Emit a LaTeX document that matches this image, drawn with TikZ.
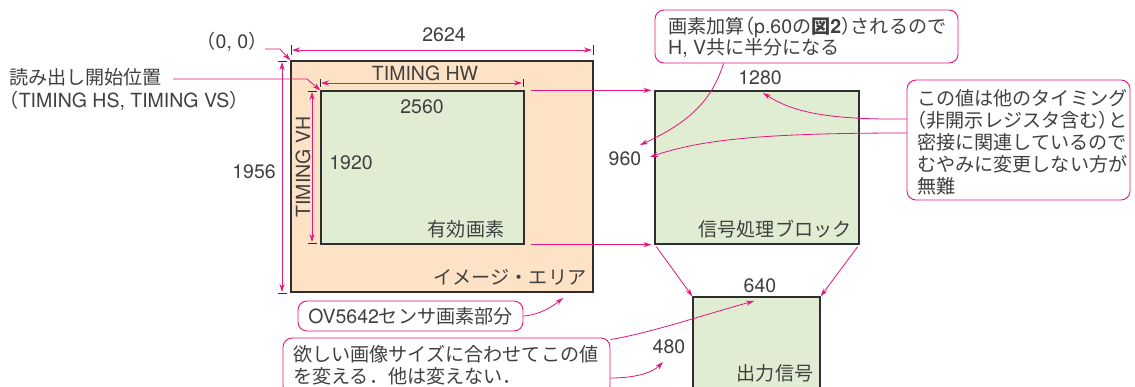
\documentclass[tikz,border=0pt]{standalone}
\usepackage{fontspec}
\setmainfont{TeX Gyre Heros}
\newfontfamily\jpf{Noto Sans CJK JP}[Scale=0.98]
\usetikzlibrary{arrows.meta}
\definecolor{pk}{HTML}{E5157E}
\definecolor{orf}{HTML}{FDE2C6}
\definecolor{grf}{HTML}{E1EDD2}
\definecolor{tx}{HTML}{404040}
\definecolor{bd}{HTML}{2E2E2E}
\newcommand{\jlp}{{\jpf\makebox[0.5em][r]{（}}}
\newcommand{\jrp}{{\jpf\makebox[0.5em][l]{）}}}
\begin{document}
\begin{tikzpicture}[x=1pt,y=-1pt,
  every node/.style={text=tx, font=\fontsize{19.5}{22}\selectfont},
  blockbox/.style={draw=bd, line width=1.3pt, inner sep=0pt},
  callout/.style={draw=pk, line width=0.9pt, rounded corners=9pt, inner sep=0pt},
  lab/.style={inner sep=0pt},
  pkarrow/.style={draw=pk, line width=0.8pt, -{Stealth[length=8pt,width=5pt]}},
  dimarrow/.style={draw=pk, line width=0.8pt, {Stealth[length=8pt,width=5pt]}-{Stealth[length=8pt,width=5pt]}},
  tickline/.style={draw=bd, line width=0.5pt},
  pkline/.style={draw=pk, line width=0.8pt}
]
\useasboundingbox (0,0) rectangle (1135,386);
\fill[white] (0,0) rectangle (1135,386);

% blocks
\node[blockbox, fill=orf, minimum width=302pt, minimum height=231pt] (area) at (442,176.5) {};
\node[blockbox, fill=grf, minimum width=203pt, minimum height=153pt] (valid) at (422.5,167.5) {};
\node[blockbox, fill=grf, minimum width=204pt, minimum height=153pt] (proc) at (757,167.5) {};
\node[blockbox, fill=grf, minimum width=127pt, minimum height=110pt] (out) at (756.5,352) {};

% labels
\node[lab] (zero) at (232,42) {\jlp 0, 0\jrp};
\node[lab, anchor=west, align=left, font=\fontsize{19.5}{23}\selectfont] (start) at (9,89.5) {{\jpf 読み出し開始位置}\\\jlp TIMING HS, TIMING VS\jrp};
\node[lab] (w2624) at (444,35) {2624};
\node[lab] (h1956) at (254,172) {1956};
\node[lab] (hw) at (425,73) {TIMING HW};
\node[lab, rotate=90] (vh) at (303,167) {TIMING VH};
\node[lab] (w2560) at (422,107) {2560};
\node[lab] (h1920) at (351,163) {1920};
\node[lab] (yuko) at (466,229) {\jpf 有効画素};
\node[lab] (image) at (510,277) {\jpf イメージ・エリア};
\node[lab] (w1280) at (760,78) {1280};
\node[lab] (h960) at (625,159) {960};
\node[lab] (shori) at (775,229) {\jpf 信号処理ブロック};
\node[lab] (w640) at (760,286) {640};
\node[lab] (h480) at (669,347) {480};
\node[lab] (shutsu) at (775,373) {\jpf 出力信号};

% callouts
\node[callout, minimum width=303pt, minimum height=53pt] (c1) at (806.5,36.5) {};
\node[lab, anchor=west, align=left, font=\fontsize{19.5}{21}\selectfont] (c1t) at (668,37.5) {{\jpf 画素加算}\jlp p.60{\jpf の\bfseries 図}{\bfseries 2}\jrp{\jpf されるので}\\H, V{\jpf 共に半分になる}};
\node[callout, minimum width=223pt, minimum height=120pt] (c2) at (1018.5,140) {};
\node[lab, anchor=west, align=left, font=\fontsize{19.5}{22}\selectfont\jpf] (c2t) at (917,142.5) {この値は他のタイミング\\\jlp 非開示レジスタ含む\jrp と\\密接に関連しているので\\むやみに変更しない方が\\無難};
\node[callout, minimum width=225pt, minimum height=30pt] (c3) at (410.5,316) {};
\node[lab] (c3t) at (410.5,316) {OV5642{\jpf センサ画素部分}};
\node[callout, minimum width=327pt, minimum height=57pt] (c4) at (446.5,366.5) {};
\node[lab, anchor=west, align=left, font=\fontsize{19.5}{22}\selectfont\jpf] (c4t) at (293,365) {欲しい画像サイズに合わせてこの値\\を変える．他は変えない．};

% dimension 2624
\draw[tickline] (291,45) -- (291,55);
\draw[tickline] (593,45) -- (593,55);
\coordinate (d1a) at (292,50);
\coordinate (d1b) at (592,50);
\draw[dimarrow] (d1a) -- (d1b);
% dimension 1956
\draw[tickline] (278,61) -- (287,61);
\draw[tickline] (278,293) -- (287,293);
\coordinate (d2a) at (282,62);
\coordinate (d2b) at (282,292);
\draw[dimarrow] (d2a) -- (d2b);
% TIMING HW
\draw[tickline] (320,79) -- (320,87);
\draw[tickline] (523,79) -- (523,87);
\coordinate (d3a) at (321,83);
\coordinate (d3b) at (522,83);
\draw[dimarrow] (d3a) -- (d3b);
% TIMING VH
\draw[tickline] (308,91) -- (317,91);
\draw[tickline] (308,243) -- (317,243);
\coordinate (d4a) at (312,92);
\coordinate (d4b) at (312,242);
\draw[dimarrow] (d4a) -- (d4b);

% leaders
\coordinate (zs) at (265,49);
\draw[pkarrow] (zs) -- (280,49) -- (area.north west);
\coordinate (ss) at (173,79);
\draw[pkarrow] (ss) -- (307,79) -- (valid.north west);

% flow arrows
\draw[pkarrow] ([xshift=6pt]valid.north east) -- ([xshift=-3pt]proc.north west);
\draw[pkarrow] ([xshift=6pt]valid.south east) -- ([xshift=-3pt]proc.south west);
\draw[pkarrow] ([xshift=2pt,yshift=-2pt]proc.south west) -- (out.north west);
\draw[pkarrow] ([xshift=-2pt,yshift=-2pt]proc.south east) -- (out.north east);

% callout connectors
\coordinate (t960a) at (640,145);
\coordinate (t960b) at (650,157);
\coordinate (t1280) at (763,93);
\coordinate (tov) at (563,298);
\coordinate (t640) at (754,301);
\coordinate (t480) at (663,362);
\draw[pkarrow] ([xshift=69pt]c1.south west) .. controls (712,100) and (690,122) .. (t960a);
\draw[pkarrow] ([yshift=21pt]c2.west) .. controls (820,120) and (790,110) .. (t1280);
\draw[pkarrow] ([yshift=7pt]c2.west) .. controls (760,133) and (700,140) .. (t960b);
\draw[pkarrow] (c3.east) .. controls (540,315) and (553,306) .. (tov);
\draw[pkarrow] ([yshift=-2pt]c4.north east) .. controls (650,333) and (700,316) .. (t640);
\draw[pkarrow] ([yshift=-11.5pt]c4.east) .. controls (635,378) and (652,373) .. (t480);
\end{tikzpicture}
\end{document}
